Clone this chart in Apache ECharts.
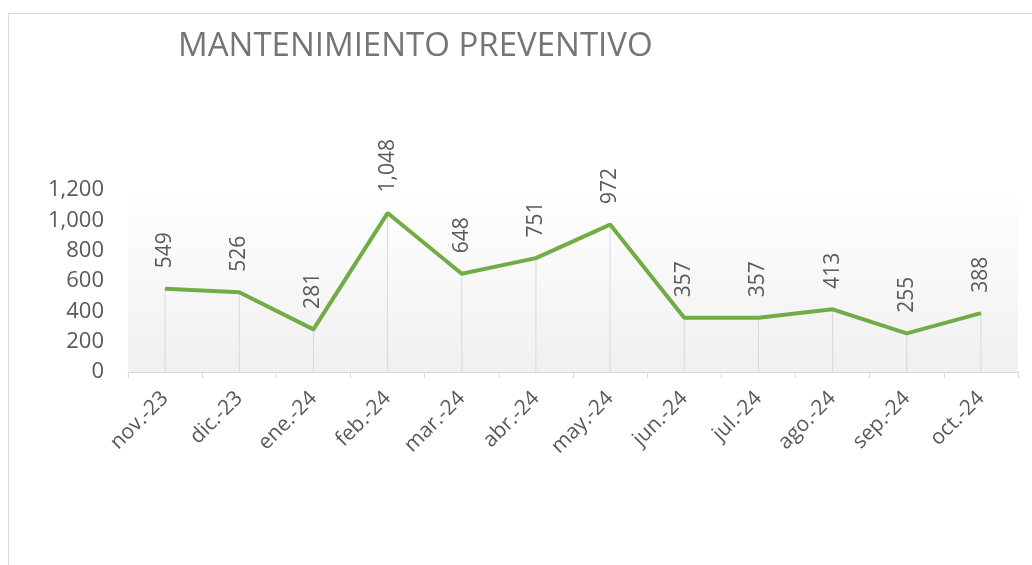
<!DOCTYPE html>
<html>
<head>
<meta charset="utf-8">
<script src="https://cdn.jsdelivr.net/npm/echarts@6/dist/echarts.min.js"></script>
<style>
  html, body { margin: 0; padding: 0; background: #fff; }
  #chart { width: 1032px; height: 565px; }
</style>
</head>
<body>
<div id="chart"></div>
<script>
// data
const months = ['nov.-23', 'dic.-23', 'ene.-24', 'feb.-24', 'mar.-24', 'abr.-24',
  'may.-24', 'jun.-24', 'jul.-24', 'ago.-24', 'sep.-24', 'oct.-24']
const values = [549, 526, 281, 1048, 648, 751, 972, 357, 357, 413, 255, 388]
const yTicks = [0, 200, 400, 600, 800, 1000, 1200]

const fmt = v => Number(v).toLocaleString('en-US')
const font = '"Open Sans", sans-serif'

const chart = echarts.init(document.getElementById('chart'))

chart.setOption({
  animation: false,
  backgroundColor: '#fff',
  textStyle: { fontFamily: font },
  graphic: [{
    type: 'rect',
    left: 6, top: 11,
    shape: { width: 1100, height: 600 },
    style: { fill: 'none', stroke: '#d9d9d9', lineWidth: 1 },
    silent: true
  }],
  title: {
    text: 'MANTENIMIENTO PREVENTIVO',
    left: 173, top: 25,
    textStyle: { fontFamily: font, fontSize: 33, fontWeight: 'normal', color: '#757575' }
  },
  grid: {
    left: 128, right: 14, top: 190, bottom: 193,
    show: true,
    borderWidth: 0,
    backgroundColor: new echarts.graphic.LinearGradient(0, 0, 0, 1, [
      { offset: 0, color: '#ffffff' },
      { offset: 1, color: '#f0f0f0' }
    ])
  },
  xAxis: {
    type: 'category',
    data: months,
    boundaryGap: true,
    axisLine: { lineStyle: { color: '#d9d9d9', width: 1 } },
    axisTick: { show: true, interval: 0, length: 6, lineStyle: { color: '#d9d9d9' } },
    axisLabel: { interval: 0, rotate: 45, color: '#595959', fontSize: 21, margin: 23, fontFamily: font }
  },
  yAxis: {
    type: 'value',
    min: yTicks[0],
    max: yTicks[yTicks.length - 1],
    interval: 200,
    axisLine: { show: false },
    axisTick: { show: false },
    splitLine: { show: false },
    axisLabel: { color: '#595959', fontSize: 22, margin: 24, formatter: fmt, fontFamily: font }
  },
  series: [
    {
      // drop lines from each point to the axis
      type: 'bar',
      data: values,
      barWidth: 1,
      silent: true,
      itemStyle: { color: '#d9d9d9' },
      z: 1
    },
    {
      type: 'line',
      data: values,
      symbol: 'circle',
      symbolSize: 1,
      showSymbol: true,
      itemStyle: { color: '#70ad47' },
      lineStyle: { color: '#70ad47', width: 4 },
      z: 3,
      label: {
        show: true,
        position: 'top',
        rotate: 90,
        align: 'left',
        verticalAlign: 'middle',
        distance: 20,
        color: '#595959',
        fontSize: 21,
        fontFamily: font,
        formatter: p => fmt(p.value)
      }
    }
  ]
})
</script>
</body>
</html>
